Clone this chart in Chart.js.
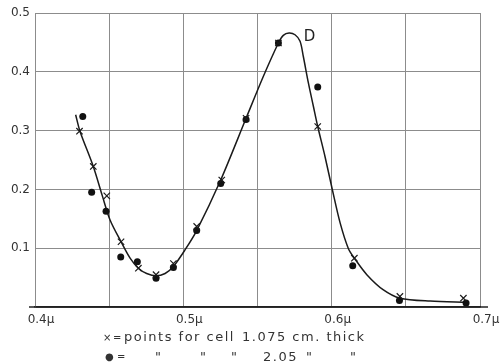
<!DOCTYPE html>
<html>
<head>
  <title>Curve D</title>
  <script src="https://cdn.jsdelivr.net/npm/chart.js"></script>
  <style>
    html, body {
      margin: 0;
      padding: 0;
      background: #ffffff;
    }

    .wrap {
      position: relative;
      width: 501px;
      height: 364px;
    }

    .note {
      position: absolute;
      font-family: 'DejaVu Sans', sans-serif;
      font-size: 13px;
      color: #333333;
      line-height: 1;
      white-space: pre;
      letter-spacing: 1.5px;
    }
  </style>
</head>
<body>

  <div class="wrap">
    <canvas id="curva" width="501" height="364"></canvas>
    <!-- leyenda de los puntos, debajo del eje -->
    <span class="note" style="left:103px; top:333px; font-size:10px;">×</span>
    <span class="note" style="left:113px; top:333px; font-size:10px;">=</span>
    <span class="note" style="left:124px; top:330px;">points for cell</span>
    <span class="note" style="left:242px; top:330px;">1.075 cm. thick</span>
    <span class="note" style="left:105px; top:352px; font-size:10px;">●</span>
    <span class="note" style="left:117px; top:352px; font-size:10px;">=</span>
    <span class="note" style="left:155px; top:350px;">"</span>
    <span class="note" style="left:200px; top:350px;">"</span>
    <span class="note" style="left:231px; top:350px;">"</span>
    <span class="note" style="left:263px; top:350px;">2.05</span>
    <span class="note" style="left:306px; top:350px;">"</span>
    <span class="note" style="left:350px; top:350px;">"</span>
  </div>

  <script>

    // longitud de onda (micras) y absorcion
    var crossX = [0.430, 0.4393, 0.4484, 0.458, 0.4697, 0.4816, 0.4933, 0.509, 0.5259, 0.5423, 0.5641, 0.5906, 0.6153, 0.646, 0.6888];
    var crossY = [0.299, 0.239, 0.189, 0.111, 0.066, 0.055, 0.074, 0.137, 0.216, 0.321, 0.449, 0.307, 0.083, 0.018, 0.015];

    var dotX = [0.4322, 0.4382, 0.4479, 0.4578, 0.469, 0.4816, 0.4933, 0.509, 0.5252, 0.5423, 0.5641, 0.5906, 0.6142, 0.6457, 0.6906];
    var dotY = [0.324, 0.195, 0.163, 0.085, 0.077, 0.049, 0.067, 0.130, 0.210, 0.319, 0.449, 0.374, 0.070, 0.011, 0.007];

    // curva dibujada a mano en el original
    var curveX = [0.4274, 0.4303, 0.4393, 0.4454, 0.4506, 0.458, 0.4641, 0.4697, 0.4753, 0.4816, 0.4877, 0.4933, 0.5011, 0.509, 0.5252, 0.5423, 0.5539, 0.5641, 0.5674, 0.5713, 0.5753, 0.5787, 0.5809, 0.5843, 0.5877, 0.5906, 0.5955, 0.6005, 0.6057, 0.6113, 0.6153, 0.6237, 0.6349, 0.6461, 0.6664, 0.6913];
    var curveY = [0.327, 0.299, 0.239, 0.189, 0.148, 0.111, 0.083, 0.066, 0.057, 0.053, 0.057, 0.069, 0.097, 0.130, 0.216, 0.321, 0.392, 0.449, 0.462, 0.466, 0.463, 0.452, 0.426, 0.381, 0.341, 0.307, 0.256, 0.199, 0.143, 0.099, 0.083, 0.055, 0.029, 0.015, 0.010, 0.008];

    var curveLabel = 'D';
    var labelX = 0.5851;
    var labelY = 0.4595;

    function pares(xs, ys) {
      return xs.map(function (x, i) { return { x: x, y: ys[i] }; });
    }

    // etiqueta "D" y prolongacion del eje inferior
    var extras = {
      id: 'extras',
      afterDraw: function (chart) {
        var c = chart.ctx;
        var sx = chart.scales.x;
        var sy = chart.scales.y;
        var y0 = sy.getPixelForValue(0);
        c.save();
        c.strokeStyle = '#222222';
        c.lineWidth = 1.5;
        c.beginPath();
        c.moveTo(sx.left - 6, y0);
        c.lineTo(sx.right + 8, y0);
        c.stroke();
        c.fillStyle = '#222222';
        c.font = '15px "DejaVu Sans", sans-serif';
        c.textAlign = 'center';
        c.textBaseline = 'middle';
        c.fillText(curveLabel, sx.getPixelForValue(labelX), sy.getPixelForValue(labelY));
        c.restore();
      }
    };

    var ctx = document.getElementById('curva').getContext('2d');
    var myChart = new Chart(ctx, {
      type: 'scatter',
      data: {
        datasets: [{
          label: 'curve',
          data: pares(curveX, curveY),
          showLine: true,
          borderColor: '#1a1a1a',
          borderWidth: 1.5,
          pointRadius: 0,
          tension: 0.3,
          order: 3
        }, {
          label: '1.075 cm',
          data: pares(crossX, crossY),
          pointStyle: 'crossRot',
          pointRadius: 4.5,
          borderColor: '#1a1a1a',
          borderWidth: 1.2,
          order: 1
        }, {
          label: '2.05 cm',
          data: pares(dotX, dotY),
          pointStyle: 'circle',
          pointRadius: 3.5,
          backgroundColor: '#111111',
          borderColor: '#111111',
          borderWidth: 0,
          order: 2
        }]
      },
      options: {
        responsive: false,
        animation: false,
        layout: {
          padding: { top: 13, right: 21, left: 0, bottom: 0 }
        },
        plugins: {
          legend: { display: false },
          tooltip: { enabled: false }
        },
        scales: {
          x: {
            type: 'linear',
            min: 0.4,
            max: 0.7,
            afterFit: function (s) { s.height = 57; },
            grid: {
              color: '#8c8c8c',
              lineWidth: 1,
              drawTicks: false
            },
            border: { color: '#222222', width: 1.5 },
            ticks: {
              stepSize: 0.05,
              padding: 6,
              labelOffset: 6,
              color: '#333333',
              font: { family: 'DejaVu Sans', size: 12 },
              callback: function (v) {
                var d = v * 10;
                if (Math.abs(d - Math.round(d)) < 1e-6) {
                  return v.toFixed(1) + 'μ';
                }
                return '';
              }
            }
          },
          y: {
            min: 0,
            max: 0.5,
            afterFit: function (s) { s.width = 35; },
            grid: {
              color: '#8c8c8c',
              lineWidth: 1,
              drawTicks: false
            },
            border: { color: '#8c8c8c', width: 1 },
            ticks: {
              stepSize: 0.1,
              padding: 5,
              color: '#333333',
              font: { family: 'DejaVu Sans', size: 12 },
              callback: function (v) {
                return v === 0 ? '' : v.toFixed(1);
              }
            }
          }
        }
      },
      plugins: [extras]
    });

  </script>
</body>
</html>
